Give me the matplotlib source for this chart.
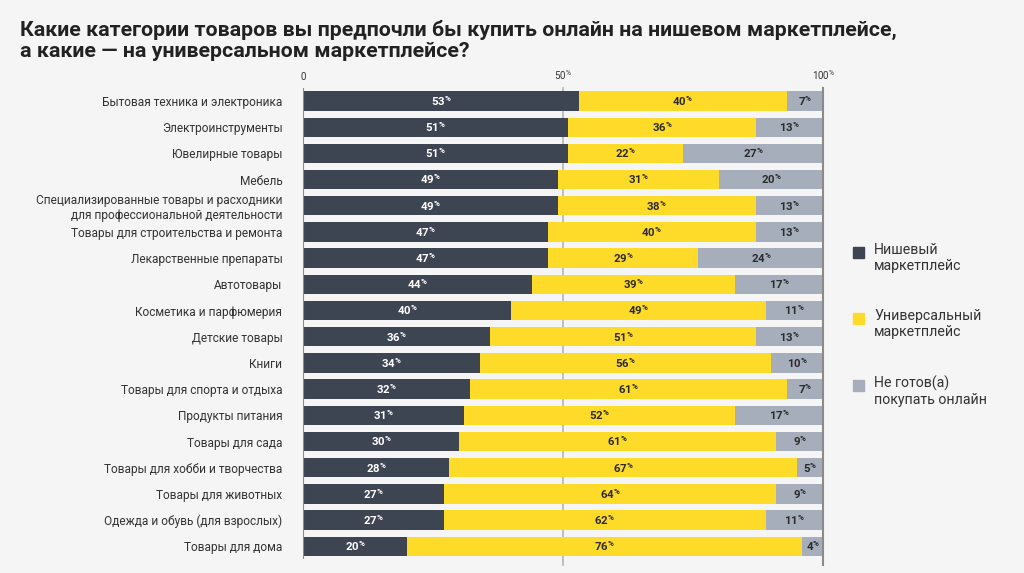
import matplotlib.pyplot as plt
from matplotlib.patches import Rectangle

plt.rcParams['font.family'] = ['Roboto', 'DejaVu Sans']
plt.rcParams['mathtext.fontset'] = 'custom'
plt.rcParams['mathtext.rm'] = 'Roboto'
plt.rcParams['mathtext.bf'] = 'Roboto:bold'

categories = [
    'Бытовая техника и электроника',
    'Электроинструменты',
    'Ювелирные товары',
    'Мебель',
    'Специализированные товары и расходники\nдля профессиональной деятельности',
    'Товары для строительства и ремонта',
    'Лекарственные препараты',
    'Автотовары',
    'Косметика и парфюмерия',
    'Детские товары',
    'Книги',
    'Товары для спорта и отдыха',
    'Продукты питания',
    'Товары для сада',
    'Товары для хобби и творчества',
    'Товары для животных',
    'Одежда и обувь (для взрослых)',
    'Товары для дома',
]
niche = [53, 51, 51, 49, 49, 47, 47, 44, 40, 36, 34, 32, 31, 30, 28, 27, 27, 20]
universal = [40, 36, 22, 31, 38, 40, 29, 39, 49, 51, 56, 61, 52, 61, 67, 64, 62, 76]
not_ready = [7, 13, 27, 20, 13, 13, 24, 17, 11, 13, 10, 7, 17, 9, 5, 9, 11, 4]

series_names = ['Нишевый\nмаркетплейс', 'Универсальный\nмаркетплейс', 'Не готов(а)\nпокупать онлайн']
colors = ['#3d4452', '#ffdb29', '#a7aebb']
text_colors = ['white', '#2b2b2b', '#2b2b2b']
bg = '#f5f5f5'

fig = plt.figure(figsize=(10.24, 5.73), dpi=100, facecolor=bg)
ax = fig.add_axes([0.296, 0.0236, 0.508, 0.823])
ax.set_facecolor(bg)

y = list(range(len(categories)))
# линии на 0, 50, 100
ax.axvline(50, color='#b5b5b5', lw=1.2, zorder=0, ymin=-0.012, ymax=1.0, clip_on=False)
ax.axvline(100, color='#8a8a8a', lw=1.5, zorder=3, ymin=-0.012, ymax=1.0, clip_on=False)
ax.axvline(0, color='#8a8a8a', lw=1.5, zorder=3, ymin=0.0, ymax=1.0)

left = [0] * len(categories)
for vals, c, tc in zip([niche, universal, not_ready], colors, text_colors):
    ax.barh(y, vals, left=left, height=0.74, color=c, zorder=2)
    for yi, v, l in zip(y, vals, left):
        ax.text(l + v / 2, yi, r'$\mathbf{%d}^{\mathbf{\%%}}$' % v, ha='center', va='center',
                fontsize=8.2, color=tc, zorder=4)
    left = [a + b for a, b in zip(left, vals)]

ax.set_xlim(0, 100)
ax.set_ylim(len(categories) - 0.5, -0.5)
ax.set_yticks(y)
ax.set_yticklabels(categories, fontsize=8.6, color='#333333', linespacing=1.2)
ax.tick_params(axis='y', length=0, pad=15)
ax.xaxis.tick_top()
ax.set_xticks([0, 50, 100])
ax.set_xticklabels(['0', r'$\mathrm{50}^{\%}$', r'$\mathrm{100}^{\%}$'], fontsize=7, color='#333333')
ax.tick_params(axis='x', length=0, pad=4)
for s in ax.spines.values():
    s.set_visible(False)

fig.text(0.0195, 0.966, 'Какие категории товаров вы предпочли бы купить онлайн на нишевом маркетплейсе,\nа какие — на универсальном маркетплейсе?',
         fontsize=15.4, fontweight='bold', color='#222222', va='top', ha='left', linespacing=1.15)

# легенда
leg_y = [252, 318, 385]
for name, c, py in zip(series_names, colors, leg_y):
    fig.patches.append(Rectangle((853 / 1024, 1 - (py + 6) / 573), 11 / 1024, 11 / 573,
                                 transform=fig.transFigure, color=c))
    fig.text(874 / 1024, 1 - (py - 9) / 573, name, fontsize=10.2, color='#333333',
             va='top', ha='left', linespacing=1.15)

fig.savefig('out.png', dpi=100, facecolor=bg)
